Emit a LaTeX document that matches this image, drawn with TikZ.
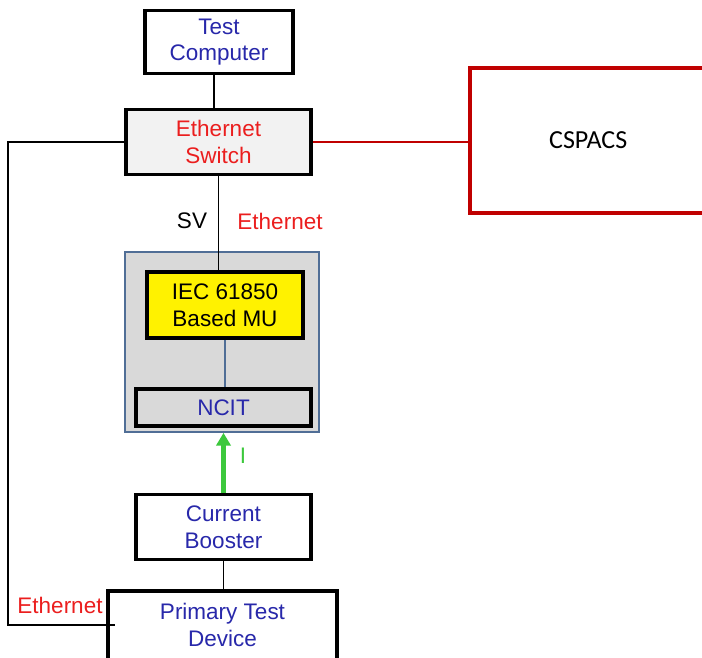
\documentclass[tikz,border=0pt]{standalone}
\usepackage{fontspec}
\setmainfont{Liberation Sans}
\newfontfamily\calibri{Carlito}
\usepackage{tikz}
\usetikzlibrary{arrows.meta, calc}
\definecolor{textblue}{RGB}{40, 40, 170}
\definecolor{textred}{RGB}{235, 30, 30}
\definecolor{darkred}{RGB}{192, 0, 0}
\definecolor{groupblue}{RGB}{80, 110, 150}
\definecolor{currentgreen}{RGB}{60, 200, 60}

\begin{document}
\begin{tikzpicture}[x=0.025cm, y=-0.025cm,
    every node/.style={font=\fontsize{16}{19}\selectfont, align=center},
    unit/.style={draw, line width=2.8pt, fill=white, inner sep=0pt},
    wire/.style={line width=1.1pt}]
    \useasboundingbox (0,0) rectangle (702,657);

    % Main units
    \node[unit, text=textblue, minimum width=3.7cm, minimum height=1.575cm] (tc) at (219,42) {Test\\Computer};
    \node[unit, fill=black!5, text=textred, minimum width=4.625cm, minimum height=1.625cm] (sw) at (218.5,142) {Ethernet\\Switch};
    \node[draw=darkred, line width=2.8pt, minimum width=6.05cm, minimum height=3.625cm, font=\calibri\fontsize{18.5}{22}\selectfont] (cspacs) at (591,140.5) {\hspace*{-4pt}CSPACS};

    % Merging unit group
    \node[draw=groupblue, line width=1.2pt, fill=black!15, minimum width=4.85cm, minimum height=4.5cm] (grp) at (222,342) {};
    \node[unit, fill=yellow, minimum width=3.9cm, minimum height=1.65cm] (mu) at (225,305) {IEC 61850\\Based MU};
    \node[unit, fill=black!15, text=textblue, minimum width=4.375cm, minimum height=0.925cm] (ncit) at (223.5,407.5) {NCIT};

    % Source side
    \node[unit, text=textblue, minimum width=4.375cm, minimum height=1.625cm] (cb) at (223.5,527) {Current\\Booster};
    \node[unit, text=textblue, minimum width=5.725cm, minimum height=1.85cm] (ptd) at (222.5,628) {\raisebox{2pt}{\begin{tabular}{@{}c@{}}Primary Test\\Device\end{tabular}}};

    % Connections
    \coordinate (tcout) at ($(tc.south)+(-5,0)$);
    \draw[wire] (tcout) -- (tcout |- sw.north);
    \draw[wire] (sw.south) -- (sw.south |- mu.north);
    \draw[line width=2pt, darkred] (sw.east) -- (sw.east -| cspacs.west);
    \draw[line width=0.8pt, groupblue] (mu.south) -- (mu.south |- ncit.north);
    \draw[wire] (cb.south) -- (cb.south |- ptd.north);
    \coordinate (ptdin) at (115,625);
    \draw[wire] (sw.west) -| (8,625) -- (ptdin);
    \draw[line width=3pt, currentgreen, -{Triangle[length=9pt, width=10pt]}] (cb.north) -- (cb.north |- grp.south);

    % Labels
    \node (sv) at (192,221) {SV};
    \node[text=textred] (ethsv) at (280,221) {Ethernet};
    \node[text=currentgreen] (cur) at (243,456) {I};
    \node[text=textred] (ethptd) at (60,605) {Ethernet};
\end{tikzpicture}
\end{document}
